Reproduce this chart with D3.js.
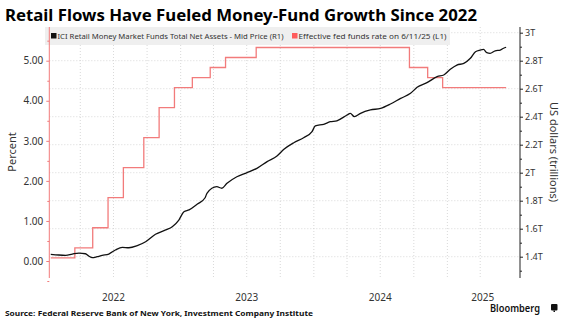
<!DOCTYPE html>
<html>
<head>
<meta charset="utf-8">
<script src="https://cdn.jsdelivr.net/npm/d3@7"></script>
<style>
  html, body { margin: 0; padding: 0; background: #fff; }
  svg { display: block; }
  text { font-family: "Noto Sans", "DejaVu Sans", sans-serif; }
</style>
</head>
<body>
<svg id="chart" width="568" height="324"></svg>
<script>
// ---------------- data ----------------
const titleText = "Retail Flows Have Fueled Money-Fund Growth Since 2022";
const sourceText = "Source: Federal Reserve Bank of New York, Investment Company Institute";
const seriesNames = ["ICI Retail Money Market Funds Total Net Assets - Mid Price (R1)", "Effective fed funds rate  on 6/11/25 (L1)"];

const fedDates = ["2022-01-10","2022-03-17","2022-05-05","2022-06-16","2022-07-28","2022-09-22","2022-11-03","2022-12-15","2023-02-02","2023-03-23","2023-05-04","2023-07-27","2024-09-19","2024-11-08","2024-12-19","2025-06-11"];
const fedRates = [0.08,0.33,0.83,1.58,2.33,3.08,3.83,4.33,4.58,4.83,5.08,5.33,4.83,4.58,4.33,4.33];

const mmfDates = ["2022-01-10","2022-02-01","2022-02-20","2022-03-10","2022-03-28","2022-04-15","2022-04-24","2022-05-04","2022-05-17","2022-05-31","2022-06-18","2022-07-06","2022-07-25","2022-08-12","2022-09-04","2022-09-27","2022-10-24","2022-11-21","2022-12-09","2022-12-27","2023-01-10","2023-01-24","2023-02-16","2023-03-09","2023-03-14","2023-04-10","2023-04-24","2023-05-08","2023-06-04","2023-07-02","2023-07-29","2023-08-26","2023-09-22","2023-10-11","2023-11-07","2023-12-04","2023-12-27","2024-01-05","2024-01-28","2024-02-15","2024-03-04","2024-04-01","2024-04-10","2024-04-21","2024-05-08","2024-06-04","2024-07-02","2024-07-29","2024-08-26","2024-09-22","2024-10-10","2024-11-06","2024-12-04","2024-12-22","2025-01-09","2025-01-27","2025-02-15","2025-03-05","2025-03-19","2025-04-01","2025-04-10","2025-04-19","2025-04-28","2025-05-12","2025-05-26","2025-06-04","2025-06-11"];
const mmfValues = [1.417,1.412,1.410,1.419,1.426,1.421,1.405,1.393,1.400,1.410,1.419,1.448,1.467,1.464,1.479,1.507,1.560,1.591,1.614,1.662,1.721,1.734,1.776,1.821,1.853,1.900,1.889,1.924,1.971,2.000,2.031,2.079,2.119,2.167,2.214,2.250,2.293,2.334,2.346,2.364,2.371,2.412,2.424,2.400,2.424,2.448,2.460,2.491,2.531,2.567,2.610,2.643,2.686,2.698,2.739,2.769,2.781,2.817,2.864,2.876,2.881,2.857,2.853,2.871,2.876,2.889,2.896];

const leftTicks = [0,1,2,3,4,5];
const leftTickLabels = ["0.00","1.00","2.00","3.00","4.00","5.00"];
const leftMinorTicks = [-0.5,0.5,1.5,2.5,3.5,4.5,5.5];
const rightTicks = [1.4,1.6,1.8,2.0,2.2,2.4,2.6,2.8,3.0];
const rightTickLabels = ["1.4T","1.6T","1.8T","2T","2.2T","2.4T","2.6T","2.8T","3T"];
const rightMinorTicks = [1.3,1.5,1.7,1.9,2.1,2.3,2.5,2.7,2.9];
const gridDates = ["2022-04-01","2022-07-01","2022-10-01","2023-01-01","2023-04-01","2023-07-01","2023-10-01","2024-01-01","2024-04-01","2024-07-01","2024-10-01","2025-01-01","2025-04-01"];
const yearLabels = ["2022","2023","2024","2025"];
const yearLabelDates = ["2022-07-01","2023-07-01","2024-07-01","2025-04-08"];

// ---------------- layout ----------------
const W = 568, H = 324;
const plotL = 49.3, plotR = 520, plotT = 27, plotB = 278;
const pink = "#f27b7b";
const parse = d3.utcParse("%Y-%m-%d");

const svg = d3.select("#chart");
svg.append("rect").attr("width", W).attr("height", H).attr("fill", "#fff");

const x = d3.scaleUtc().domain([parse("2022-01-06"), parse("2025-07-19")]).range([plotL, plotR]);
const yL = d3.scaleLinear().domain([0, 5]).range([261, 60.7]);
const yR = d3.scaleLinear().domain([1.4, 3]).range([256.7, 32.7]);

// gridlines
const grid = svg.append("g");
grid.selectAll("line.h").data(rightTicks).join("line")
  .attr("x1", plotL).attr("x2", plotR)
  .attr("y1", d => yR(d)).attr("y2", d => yR(d))
  .attr("stroke", "#cfcfcf").attr("stroke-width", 0.8).attr("stroke-dasharray", "1,2");
grid.selectAll("line.v").data(gridDates).join("line")
  .attr("x1", d => x(parse(d))).attr("x2", d => x(parse(d)))
  .attr("y1", plotT).attr("y2", plotB)
  .attr("stroke", "#cfcfcf").attr("stroke-width", 0.8).attr("stroke-dasharray", "1,2");

// legend box
const lg = svg.append("g");
lg.append("rect").attr("x", 45).attr("y", 27).attr("width", 405).attr("height", 18).attr("fill", "#efefef");
lg.append("rect").attr("x", 51).attr("y", 33).attr("width", 5.5).attr("height", 5.5).attr("fill", "#111");
lg.append("text").attr("x", 57.5).attr("y", 39).attr("font-size", 7.6).attr("fill", "#333")
  .attr("font-family", "DejaVu Sans")
  .attr("textLength", 226).attr("lengthAdjust", "spacingAndGlyphs").text(seriesNames[0]);
lg.append("rect").attr("x", 292).attr("y", 33).attr("width", 5.5).attr("height", 5.5).attr("fill", "#ff5c5c");
lg.append("text").attr("x", 298.5).attr("y", 39).attr("font-size", 7.6).attr("fill", "#333")
  .attr("font-family", "DejaVu Sans")
  .attr("textLength", 148).attr("lengthAdjust", "spacingAndGlyphs").text(seriesNames[1]);

// left axis
const axL = svg.append("g").attr("transform", `translate(${plotL},0)`);
axL.call(d3.axisLeft(yL).tickValues(leftTicks).tickSize(3).tickPadding(3)
  .tickFormat((d, i) => leftTickLabels[i]));
axL.select(".domain").remove();
axL.selectAll("line").attr("stroke", pink);
axL.selectAll("text").attr("font-size", 10).attr("fill", "#333").attr("font-family", "Noto Sans");
const axLm = svg.append("g").attr("transform", `translate(${plotL},0)`);
axLm.call(d3.axisLeft(yL).tickValues(leftMinorTicks).tickSize(2).tickFormat(""));
axLm.select(".domain").remove();
axLm.selectAll("line").attr("stroke", pink);
svg.append("line").attr("x1", plotL).attr("x2", plotL).attr("y1", plotT).attr("y2", plotB)
  .attr("stroke", pink).attr("stroke-width", 1);

// right axis
const axR = svg.append("g").attr("transform", `translate(${plotR},0)`);
axR.call(d3.axisRight(yR).tickValues(rightTicks).tickSize(3).tickPadding(2)
  .tickFormat((d, i) => rightTickLabels[i]));
axR.select(".domain").remove();
axR.selectAll("line").attr("stroke", "#222");
axR.selectAll("text").attr("font-size", 9).attr("fill", "#333").attr("font-family", "Noto Sans");
const axRm = svg.append("g").attr("transform", `translate(${plotR},0)`);
axRm.call(d3.axisRight(yR).tickValues(rightMinorTicks).tickSize(2).tickFormat(""));
axRm.select(".domain").remove();
axRm.selectAll("line").attr("stroke", "#222");
svg.append("line").attr("x1", plotR).attr("x2", plotR).attr("y1", plotT).attr("y2", plotB)
  .attr("stroke", "#222").attr("stroke-width", 1);

// x labels
svg.append("g").selectAll("text").data(yearLabels).join("text")
  .attr("x", (d, i) => x(parse(yearLabelDates[i]))).attr("y", 300.5)
  .attr("text-anchor", "middle").attr("font-size", 10).attr("fill", "#333").text(d => d);

// series
const fedData = fedDates.map((d, i) => ({ date: parse(d), v: fedRates[i] }));
const mmfData = mmfDates.map((d, i) => ({ date: parse(d), v: mmfValues[i] }));

svg.append("path").datum(fedData)
  .attr("d", d3.line().curve(d3.curveStepAfter).x(d => x(d.date)).y(d => yL(d.v)))
  .attr("fill", "none").attr("stroke", pink).attr("stroke-width", 1.3);
svg.append("path").datum(mmfData)
  .attr("d", d3.line().curve(d3.curveMonotoneX).x(d => x(d.date)).y(d => yR(d.v)))
  .attr("fill", "none").attr("stroke", "#111").attr("stroke-width", 1.3);

// axis titles
svg.append("text").attr("transform", "translate(16,152) rotate(-90)")
  .attr("text-anchor", "middle").attr("font-size", 11).attr("fill", "#333").text("Percent");
svg.append("text").attr("transform", "translate(550,152) rotate(90)")
  .attr("text-anchor", "middle").attr("font-size", 11).attr("fill", "#333").text("US dollars (trillions)");

// title & footer
svg.append("text").attr("x", 5).attr("y", 20.7).attr("font-size", 16.5).attr("font-weight", "bold")
  .attr("fill", "#000").attr("font-family", "DejaVu Sans")
  .attr("textLength", 472).attr("lengthAdjust", "spacingAndGlyphs").text(titleText);
svg.append("text").attr("x", 5).attr("y", 316).attr("font-size", 7.5).attr("font-weight", "bold")
  .attr("fill", "#111").attr("font-family", "DejaVu Sans")
  .attr("textLength", 308).attr("lengthAdjust", "spacingAndGlyphs").text(sourceText);
svg.append("text").attr("x", 490).attr("y", 311.5).attr("font-size", 11).attr("font-weight", "600")
  .attr("fill", "#111").attr("textLength", 50).attr("lengthAdjust", "spacingAndGlyphs").text("Bloomberg");
// small logo mark
const logo = svg.append("g").attr("transform", "translate(551,304)");
logo.append("rect").attr("width", 6.5).attr("height", 6.5).attr("rx", 1).attr("fill", "#111");
logo.append("rect").attr("x", 2.5).attr("y", 6.5).attr("width", 1.5).attr("height", 1.5).attr("fill", "#111");
</script>
</body>
</html>
